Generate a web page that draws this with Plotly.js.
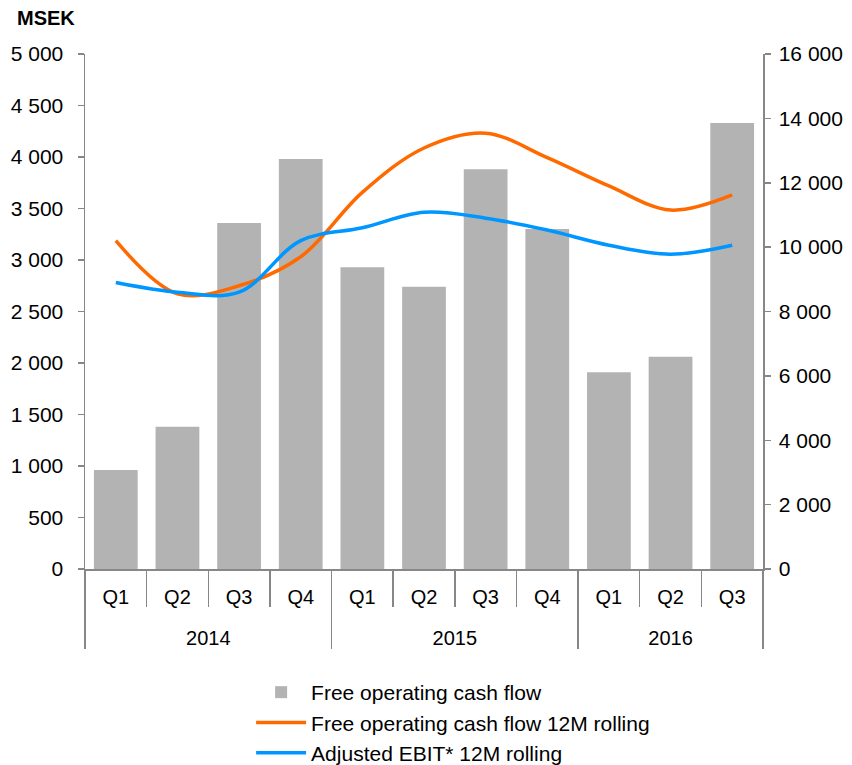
<!DOCTYPE html>
<html>
<head>
<meta charset="utf-8">
<script src="https://cdn.plot.ly/plotly-3.0.1.min.js"></script>
<style>
  html, body { margin: 0; padding: 0; background: #fff; }
  #chart { width: 852px; height: 765px; }
</style>
</head>
<body>
<div id="chart"></div>
<script>
// Quarterly free operating cash flow (left axis) and 12M rolling figures (right axis), MSEK
const years    = ['2014', '2014', '2014', '2014', '2015', '2015', '2015', '2015', '2016', '2016', '2016'];
const quarters = ['Q1', 'Q2', 'Q3', 'Q4', 'Q1', 'Q2', 'Q3', 'Q4', 'Q1', 'Q2', 'Q3'];

const focf        = [960, 1380, 3360, 3980, 2930, 2740, 3880, 3300, 1910, 2060, 4330];
const focfRolling = [10200, 8550, 8800, 9700, 11700, 13080, 13540, 12780, 11900, 11150, 11620];
const ebitRolling = [8900, 8600, 8600, 10200, 10600, 11080, 10900, 10530, 10060, 9780, 10060];

const COL = { bar: '#b3b3b3', orange: '#ff6a00', blue: '#0096ff', axis: '#878787', text: '#000' };
const FONT = 'Liberation Sans, Arial, sans-serif';

// leading <br> pushes the year row further below the quarter row
const x = [years.map((y) => '<br>' + y), quarters];

const traces = [
  { type: 'bar', x, y: focf, name: 'Free operating cash flow',
    marker: { color: COL.bar }, hoverinfo: 'skip' },
  { type: 'scatter', mode: 'lines', x, y: focfRolling, yaxis: 'y2',
    name: 'Free operating cash flow 12M rolling',
    line: { color: COL.orange, width: 3.5, shape: 'spline', smoothing: 1 } },
  { type: 'scatter', mode: 'lines', x, y: ebitRolling, yaxis: 'y2',
    name: 'Adjusted EBIT* 12M rolling',
    line: { color: COL.blue, width: 3.5, shape: 'spline', smoothing: 1 } },
];

const yax = (extra) => Object.assign({
  showgrid: false, zeroline: false, showline: true, linecolor: COL.axis, linewidth: 1.5,
  ticks: 'outside', ticklen: 6, tickcolor: COL.axis, tickwidth: 1.5,
  tickfont: { size: 21, color: COL.text }, tickformat: ',d', fixedrange: true,
}, extra);

const layout = {
  width: 852, height: 765,
  margin: { l: 85, r: 89, t: 54, b: 196, autoexpand: false },
  paper_bgcolor: '#fff', plot_bgcolor: '#fff',
  font: { family: FONT, color: COL.text },
  separators: ', ',
  bargap: 0.29,
  showlegend: true,
  legend: { x: 0.245, y: -0.2, xanchor: 'left', yanchor: 'top', traceorder: 'normal',
    font: { size: 21 }, itemwidth: 50, tracegroupgap: 0, bgcolor: 'rgba(0,0,0,0)' },
  xaxis: {
    type: 'multicategory', showgrid: false, showline: true, linecolor: COL.axis, linewidth: 1.5,
    ticks: 'outside', ticklen: 36, tickcolor: COL.axis, tickwidth: 1.5,
    showdividers: true, dividercolor: COL.axis, dividerwidth: 1.5,
    tickfont: { size: 20, color: COL.text }, ticklabelstandoff: 9,
  },
  yaxis: yax({ range: [0, 5000], dtick: 500, side: 'left', ticklabelstandoff: 10 }),
  yaxis2: yax({ range: [0, 16000], dtick: 2000, side: 'right', overlaying: 'y', ticklabelstandoff: 4 }),
  annotations: [
    { text: '<b>MSEK</b>', xref: 'paper', yref: 'paper', x: -0.103, y: 1.07, xanchor: 'left', yanchor: 'middle',
      showarrow: false, font: { size: 20, color: COL.text } },
  ],
};

Plotly.newPlot('chart', traces, layout, { displayModeBar: false, staticPlot: true });
</script>
</body>
</html>
